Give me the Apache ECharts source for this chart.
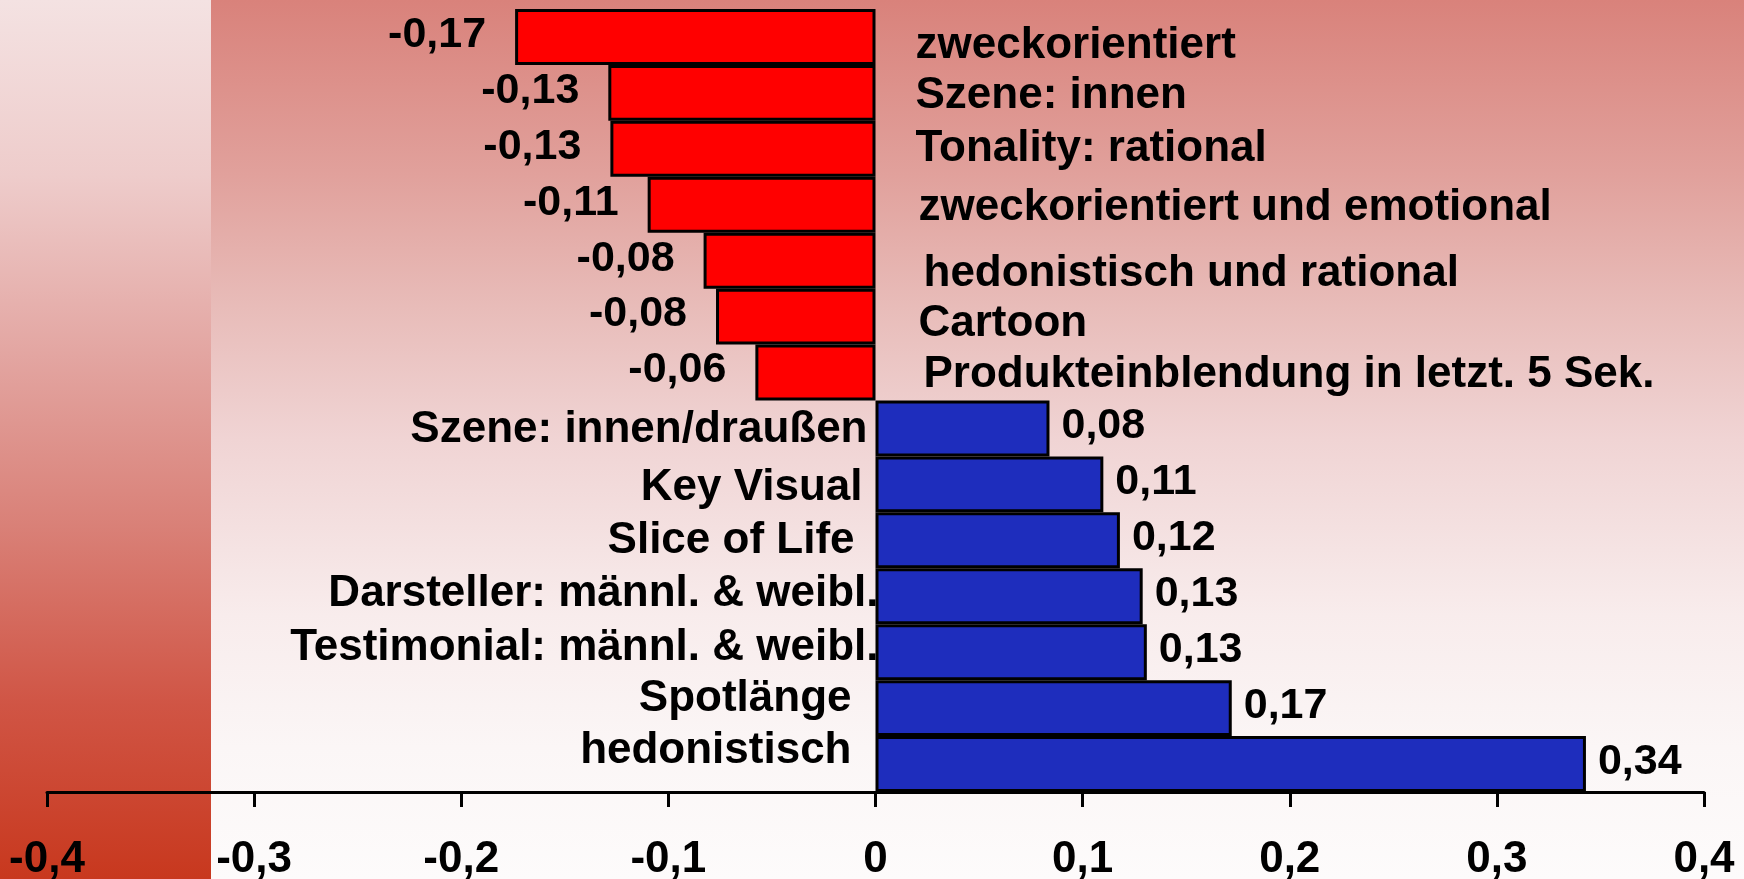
<!DOCTYPE html>
<html>
<head>
<meta charset="utf-8">
<script src="https://cdn.jsdelivr.net/npm/echarts@6/dist/echarts.min.js"></script>
<style>
  html, body { margin: 0; padding: 0; }
  #chart { width: 1744px; height: 879px; }
</style>
</head>
<body>
<div id="chart"></div>
<script>
// Kategorien von oben nach unten
var categories = [
    'zweckorientiert',
    'Szene: innen',
    'Tonality: rational',
    'zweckorientiert und emotional',
    'hedonistisch und rational',
    'Cartoon',
    'Produkteinblendung in letzt. 5 Sek.',
    'Szene: innen/draußen',
    'Key Visual',
    'Slice of Life',
    'Darsteller: männl. & weibl.',
    'Testimonial: männl. & weibl.',
    'Spotlänge',
    'hedonistisch'
];
var values = [-0.174, -0.129, -0.128, -0.110, -0.083, -0.077, -0.058,
              0.084, 0.110, 0.118, 0.129, 0.131, 0.172, 0.343];
var axisTicks = [-0.4, -0.3, -0.2, -0.1, 0, 0.1, 0.2, 0.3, 0.4];

// kleine Verschiebungen der Beschriftungen wie im Original [dx, dy]
var nameNudge = [[-2, 9], [-2, 3], [-2, 0], [1, 3], [6, 13], [1, 7], [6, 2],
                 [2, 1], [-3, 3], [-11, 1], [13, -2], [13, -4], [-14, -9], [-14, -13]];

var font = '"Liberation Sans", Arial, sans-serif';
function comma(v, d) {
    return (d == null ? String(v) : v.toFixed(d)).replace('.', ',');
}

var barData = values.map(function (v) {
    return {
        value: v,
        itemStyle: { color: v < 0 ? '#ff0000' : '#1e2dbd' },
        label: { position: v < 0 ? 'left' : 'right', distance: v < 0 ? 29 : 12, offset: [0, -2] }
    };
});
var nameData = values.map(function (v, i) {
    return {
        value: v,
        label: {
            position: v < 0 ? 'right' : 'left',
            distance: v < 0 ? 42 : 10,
            offset: nameNudge[i]
        }
    };
});

var myChart = echarts.init(document.getElementById('chart'));
myChart.setOption({
    animation: false,
    graphic: [{
        type: 'rect', z: -100, silent: true,
        shape: { x: 211, y: 0, width: 1533, height: 879 },
        style: {
            fill: new echarts.graphic.LinearGradient(0, 0, 0, 1, [
                { offset: 0, color: '#d9827b' },
                { offset: 0.2, color: '#e1a19c' },
                { offset: 0.35, color: '#e8bcb9' },
                { offset: 0.5, color: '#f0d4d4' },
                { offset: 0.7, color: '#f8ecec' },
                { offset: 0.85, color: '#fbf6f6' },
                { offset: 1, color: '#fdfbfb' }
            ])
        }
    }, {
        type: 'rect', z: -100, silent: true,
        shape: { x: 0, y: 0, width: 211, height: 879 },
        style: {
            fill: new echarts.graphic.LinearGradient(0, 0, 0, 1, [
                { offset: 0, color: '#f4e2e2' },
                { offset: 0.2, color: '#eecccb' },
                { offset: 0.4, color: '#e3a6a2' },
                { offset: 0.6, color: '#d98077' },
                { offset: 0.8, color: '#d05545' },
                { offset: 1, color: '#c8381e' }
            ])
        }
    }],
    grid: {
        left: 47,
        right: 40,
        top: 9,
        bottom: 87,
        containLabel: false,
        outerBoundsMode: 'none'
    },
    xAxis: {
        type: 'value',
        min: axisTicks[0],
        max: axisTicks[axisTicks.length - 1],
        interval: 0.1,
        splitLine: { show: false },
        axisLine: { show: true, lineStyle: { color: '#000', width: 3 } },
        axisTick: { show: true, length: 15, inside: false, lineStyle: { color: '#000', width: 3 } },
        axisLabel: {
            margin: 46,
            color: '#000',
            fontFamily: font,
            fontWeight: 'bold',
            fontSize: 44,
            formatter: function (v) { return comma(Math.round(v * 10) / 10); }
        }
    },
    yAxis: {
        type: 'category',
        inverse: true,
        data: categories,
        axisLine: { show: false },
        axisTick: { show: false },
        axisLabel: { show: false }
    },
    series: [{
        name: 'Wert',
        type: 'bar',
        barCategoryGap: '0%',
        itemStyle: { borderColor: '#000', borderWidth: 3 },
        label: {
            show: true,
            color: '#000',
            fontFamily: font,
            fontWeight: 'bold',
            fontSize: 43,
            formatter: function (p) { return comma(p.value, 2); }
        },
        data: barData,
        z: 3
    }, {
        name: 'Kategorie',
        type: 'bar',
        barGap: '-100%',
        barCategoryGap: '0%',
        silent: true,
        itemStyle: { color: 'rgba(0,0,0,0)' },
        label: {
            show: true,
            color: '#000',
            fontFamily: font,
            fontWeight: 'bold',
            fontSize: 44,
            formatter: '{b}'
        },
        data: nameData,
        z: 4
    }]
});
</script>
</body>
</html>
